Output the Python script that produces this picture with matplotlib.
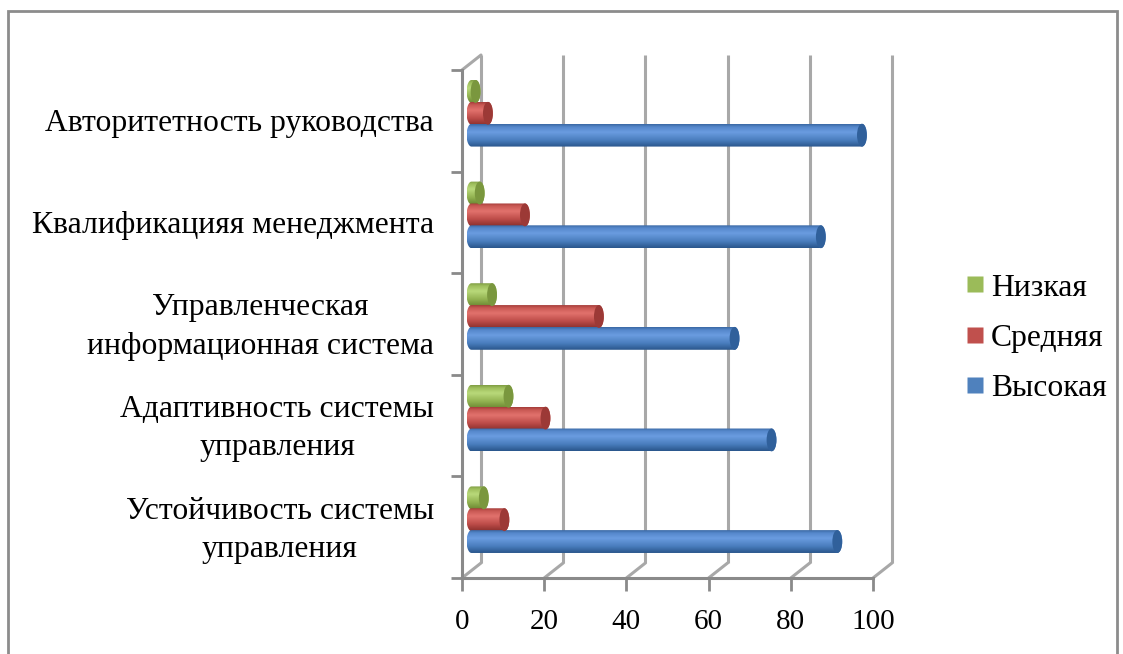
import numpy as np
import matplotlib
matplotlib.use("Agg")
import matplotlib.pyplot as plt
from matplotlib.transforms import offset_copy, blended_transform_factory
from matplotlib.path import Path
from matplotlib.patches import PathPatch, Ellipse, ConnectionPatch, Rectangle
from matplotlib.colors import LinearSegmentedColormap
from matplotlib.lines import Line2D

plt.rcParams['font.family'] = ['Liberation Serif', 'DejaVu Serif']

# Categories listed from the bottom of the chart to the top
categories = [
    "Устойчивость системы\nуправления",
    "Адаптивность системы\nуправления",
    "Управленческая\nинформационная система",
    "Квалификацияя менеджмента",
    "Авторитетность руководства",
]
high = [89, 73, 64, 85, 95]     # Высокая
medium = [8, 18, 31, 13, 4]     # Средняя
low = [3, 9, 5, 2, 1]           # Низкая
x_ticks = [0, 20, 40, 60, 80, 100]

W, H = 1123, 654
FS_LABEL = 22.8
FS_TICK = 21
fig = plt.figure(figsize=(W / 100, H / 100), dpi=100)
ax = fig.add_axes([462 / W, (H - 578) / H, 411 / W, 508 / H])
ax.patch.set_alpha(0)

axis_gray = '#8a8a8a'
grid_gray = '#a8a8a8'

# offsets for the pseudo-3D depth: back wall and mid-depth plane of the bars
back = offset_copy(ax.transData, fig=fig, x=19, y=15, units='dots')
mid = offset_copy(ax.transData, fig=fig, x=9.5, y=7.5, units='dots')

n_cat = len(categories)
ymin, ymax = -0.5, n_cat - 0.5

# back wall gridlines
for t in x_ticks:
    ax.plot([t, t], [ymin, ymax], transform=back, color=grid_gray, lw=2.2,
            clip_on=False, zorder=1, solid_capstyle='butt')

# floor diagonals and top-left edge
for t in x_ticks:
    con = ConnectionPatch((t, ymin), (t, ymin), coordsA=ax.transData,
                          coordsB=back, color=grid_gray, lw=2.2, zorder=1)
    ax.add_artist(con)
con = ConnectionPatch((0, ymax), (0, ymax), coordsA=ax.transData,
                      coordsB=back, color=grid_gray, lw=2.2, zorder=1)
ax.add_artist(con)


def cylinder(y, v, h, cap_w, stops, cap_color):
    n = 40
    th_l = np.linspace(np.pi / 2, 3 * np.pi / 2, n)
    th_r = np.linspace(-np.pi / 2, np.pi / 2, n)
    xs = np.concatenate([cap_w / 2 * np.cos(th_l), v + cap_w / 2 * np.cos(th_r)])
    ys = np.concatenate([y + h / 2 * np.sin(th_l), y + h / 2 * np.sin(th_r)])
    verts = np.column_stack([xs, ys])
    verts = np.vstack([verts, verts[:1]])
    codes = [Path.MOVETO] + [Path.LINETO] * (len(verts) - 2) + [Path.CLOSEPOLY]
    outline = PathPatch(Path(verts, codes), transform=mid, facecolor='none',
                        edgecolor='none')
    ax.add_patch(outline)
    cmap = LinearSegmentedColormap.from_list('body', stops)
    grad = np.linspace(0, 1, 64).reshape(-1, 1)
    im = ax.imshow(grad, cmap=cmap, origin='lower', aspect='auto',
                   extent=(-cap_w / 2, v + cap_w / 2, y - h / 2, y + h / 2),
                   interpolation='bilinear', transform=mid, zorder=3)
    im.set_clip_path(outline)
    ax.add_patch(Ellipse((v, y), cap_w, h, transform=mid, facecolor=cap_color,
                         edgecolor='none', zorder=4))


series = [
    (low, 0.215, [(0.0, '#6d8a33'), (0.3, '#93b352'), (0.65, '#b9d97a'),
                  (0.88, '#9fbf5d'), (1.0, '#7f9d42')], '#7a973e'),
    (medium, 0.0, [(0.0, '#8c302d'), (0.3, '#bd4c49'), (0.65, '#e2726d'),
                   (0.88, '#c95954'), (1.0, '#a53d3a')], '#9c3936'),
    (high, -0.215, [(0.0, '#2a568c'), (0.3, '#4a7ebe'), (0.65, '#6a9ce0'),
                    (0.88, '#5588cb'), (1.0, '#3a68a4')], '#30609b'),
]
bar_h = 0.225
cap_w = 2.4
for values, off, stops, cap_color in series:
    for i, v in enumerate(values):
        cylinder(i + off, v, bar_h, cap_w, stops, cap_color)

ax.set_xlim(0, 100)
ax.set_ylim(ymin, ymax)

for side in ('top', 'right'):
    ax.spines[side].set_visible(False)
for side in ('left', 'bottom'):
    ax.spines[side].set_color(axis_gray)
    ax.spines[side].set_linewidth(2.2)

ax.set_xticks(x_ticks)
ax.set_xticklabels([str(t) for t in x_ticks])
ax.tick_params(axis='x', direction='out', length=9, width=2, color=axis_gray,
               labelsize=FS_TICK, pad=13)
ax.set_yticks(np.arange(ymin, ymax + 0.01, 1.0))
ax.set_yticklabels([])
ax.tick_params(axis='y', direction='out', length=8, width=2, color=axis_gray)

lab_tr = offset_copy(blended_transform_factory(ax.transAxes, ax.transData),
                     fig=fig, x=0, y=-3, units='dots')
for i, name in enumerate(categories):
    ax.text(-28 / 411, i, name, transform=lab_tr, ha='right', va='center',
            multialignment='center', fontsize=FS_LABEL, linespacing=1.42)

legend_names = ["Низкая", "Средняя", "Высокая"]
legend_colors = ['#9bbb59', '#c0504d', '#4f81bd']
handles = [Line2D([], [], marker='s', ls='none', markersize=11,
                  markerfacecolor=c, markeredgecolor='none') for c in legend_colors]
fig.legend(handles, legend_names, loc='center left',
           bbox_to_anchor=(967 / W, 1 - 338 / H), frameon=False, fontsize=FS_LABEL,
           handlelength=0.5, handletextpad=0.25, labelspacing=0.66, borderpad=0,
           borderaxespad=0)

fig.add_artist(Rectangle((8 / W, -0.05), (1117 - 8) / W, 1.05 - 11 / H,
                         transform=fig.transFigure, fill=False,
                         edgecolor='#8c8c8c', lw=2))

fig.savefig('out.png', dpi=100)
